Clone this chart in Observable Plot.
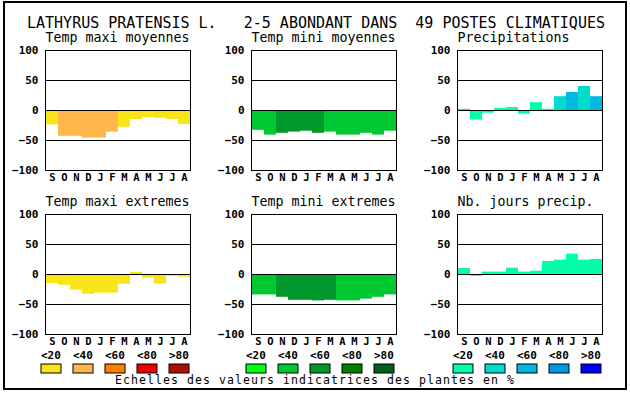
<!DOCTYPE html>
<html>
<head>
<meta charset="utf-8">
<script src="https://cdn.jsdelivr.net/npm/d3@7"></script>
<script src="https://cdn.jsdelivr.net/npm/@observablehq/plot@0.6"></script>
<style>
  html, body { margin: 0; padding: 0; background: #fff; }
  #root { position: relative; width: 630px; height: 394px; overflow: hidden; font-family: 'DejaVu Sans Mono', monospace; }
  .border { position: absolute; left: 3px; top: 1px; width: 620px; height: 385px; border: 2px solid #000; }
  .title { position: absolute; left: 27px; top: 15.5px; font-size: 15px; line-height: 15px; white-space: pre; color: #000; }
  .caption { position: absolute; left: 0; width: 630px; top: 374.5px; font-size: 11.5px; line-height: 11.5px; letter-spacing: 1.08px; text-align: center; white-space: pre; color: #000; }
</style>
</head>
<body>
<div id="root">
  <div class="border"></div>
  <div class="title">LATHYRUS PRATENSIS L.   2-5 ABONDANT DANS  49 POSTES CLIMATIQUES</div>
  <div class="caption">Echelles des valeurs indicatrices des plantes en %</div>
</div>
<script>
// ---- data ----
const months = ["S", "O", "N", "D", "J", "F", "M", "A", "M", "J", "J", "A"];
const yTicks = [-100, -50, 0, 50, 100];
const gridLines = [-50, 0, 50];
const legendLabels = ["<20", "<40", "<60", "<80", ">80"];

const warmColors = ["#f8e418", "#ffb74c", "#ff7f00", "#ee0000", "#b01000"];
const greenColors = ["#00ff10", "#00c832", "#00982a", "#007f00", "#006020"];
const blueColors = ["#00ffaa", "#00dccc", "#00b8e0", "#0098e8", "#0000ff"];

const tmaxMoyTitle = "Temp maxi moyennes";
const tmaxMoyValues = [-24, -43, -43, -46, -46, -36, -28, -15, -12, -13, -15, -23];
const tmaxMoyClass = [0, 1, 1, 1, 1, 1, 0, 0, 0, 0, 0, 0];

const tminMoyTitle = "Temp mini moyennes";
const tminMoyValues = [-33, -41, -38, -36, -34.5, -38, -36, -41, -41, -38, -41, -34.5];
const tminMoyClass = [1, 1, 2, 2, 2, 2, 1, 1, 1, 1, 1, 1];

const precipTitle = "Precipitations";
const precipValues = [2, -16, -4.5, 3.5, 5, -6, 13, 2, 23, 30, 40, 23];
const precipClass = [0, 0, 0, 0, 0, 0, 0, 0, 1, 2, 1, 2];

const tmaxExtTitle = "Temp maxi extremes";
const tmaxExtValues = [-15, -18, -26, -33, -31, -31, -16, 3.3, -6, -16, -3, -4.5];
const tmaxExtClass = [0, 0, 0, 0, 0, 0, 0, 0, 0, 0, 0, 0];

const tminExtTitle = "Temp mini extremes";
const tminExtValues = [-34, -34, -38, -43, -43, -44, -43, -44, -44, -41, -38, -34];
const tminExtClass = [1, 1, 2, 2, 2, 2, 2, 1, 1, 1, 1, 1];

const nbJoursTitle = "Nb. jours precip.";
const nbJoursValues = [10, -3, 4, 4, 10.5, 4, 5.5, 21.7, 24, 34, 24, 25];
const nbJoursClass = [0, 0, 0, 0, 0, 0, 0, 0, 0, 0, 0, 0];

// ---- drawing ----
const FONT = "'DejaVu Sans Mono', monospace";
const root = document.getElementById("root");

function place(node, left, top) {
  node.style.position = "absolute";
  node.style.left = left + "px";
  node.style.top = top + "px";
  root.appendChild(node);
}

function panel(title, values, classes, palette, left, top) {
  const data = values.map((v, i) => ({i, v, color: palette[classes[i]]}));
  const chart = Plot.plot({
    width: 191,
    height: 160,
    marginLeft: 45,
    marginRight: 1,
    marginTop: 24,
    marginBottom: 16,
    style: {fontFamily: FONT, background: "transparent", overflow: "visible", color: "#000"},
    x: {type: "band", domain: d3.range(12), padding: 0},
    y: {domain: [-100, 100]},
    color: {type: "identity"},
    marks: [
      Plot.barY(data, {x: "i", y: "v", fill: "color"}),
      Plot.ruleY(gridLines, {stroke: "#000", strokeWidth: 1}),
      Plot.frame({stroke: "#000"}),
      Plot.axisY({ticks: yTicks, tickSize: 0, tickPadding: 7, fontSize: 11, fontWeight: "bold", label: null}),
      Plot.axisX({tickSize: 0, tickPadding: 3, fontSize: 10.5, fontWeight: "bold", label: null, tickFormat: (i) => months[i]}),
      Plot.text([title], {frameAnchor: "top-left", textAnchor: "start", lineAnchor: "bottom", dy: -8.5, fontSize: 13.3})
    ]
  });
  place(chart, left, top);
}

panel(tmaxMoyTitle, tmaxMoyValues, tmaxMoyClass, warmColors, 0, 26);
panel(tminMoyTitle, tminMoyValues, tminMoyClass, greenColors, 206, 26);
panel(precipTitle, precipValues, precipClass, blueColors, 412, 26);
panel(tmaxExtTitle, tmaxExtValues, tmaxExtClass, warmColors, 0, 190);
panel(tminExtTitle, tminExtValues, tminExtClass, greenColors, 206, 190);
panel(nbJoursTitle, nbJoursValues, nbJoursClass, blueColors, 412, 190);

function legend(palette, left, top) {
  const data = legendLabels.map((label, k) => ({label, color: palette[k]}));
  const chart = Plot.plot({
    width: 155,
    height: 23,
    marginLeft: 1,
    marginRight: 1,
    marginTop: 14,
    marginBottom: 0,
    style: {fontFamily: FONT, background: "transparent", overflow: "visible", color: "#000"},
    x: {type: "band", domain: legendLabels, paddingInner: 0.36, paddingOuter: 0, axis: null},
    color: {type: "identity"},
    marks: [
      Plot.cell(data, {x: "label", fill: "color", stroke: "#000", strokeWidth: 1}),
      Plot.text(data, {x: "label", text: "label", frameAnchor: "top", textAnchor: "start", lineAnchor: "bottom", dx: -10.5, dy: -6, fontSize: 11, fontWeight: "bold", letterSpacing: "-1px"})
    ]
  });
  place(chart, left, top);
}

legend(warmColors, 38, 350);
legend(greenColors, 243, 350);
legend(blueColors, 450, 350);
</script>
</body>
</html>
